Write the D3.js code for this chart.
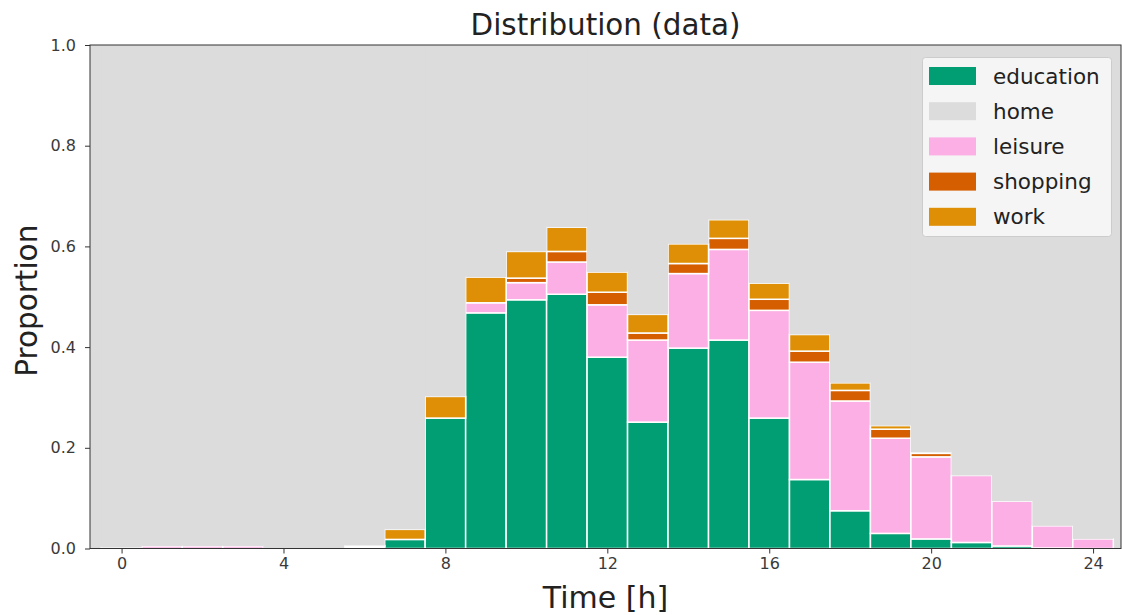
<!DOCTYPE html>
<html>
<head>
<meta charset="utf-8">
<script src="https://cdn.jsdelivr.net/npm/d3@7"></script>
<style>
  body { margin: 0; background: #fff; }
  text { font-family: "DejaVu Sans", sans-serif; }
</style>
</head>
<body>
<div id="chart"></div>
<script>
// hour bins 0..24
var hours = d3.range(0, 25)
var activities = ['education', 'home', 'leisure', 'shopping', 'work']

var education = [0, 0, 0, 0, 0, 0, 0.003, 0.018, 0.259, 0.468, 0.494, 0.505, 0.380, 0.251, 0.398, 0.414, 0.259, 0.137, 0.075, 0.030, 0.019, 0.012, 0.005, 0.001, 0]
var leisure = [0.002, 0.005, 0.005, 0.005, 0, 0, 0.002, 0, 0, 0.020, 0.034, 0.064, 0.104, 0.163, 0.148, 0.180, 0.214, 0.233, 0.218, 0.189, 0.163, 0.133, 0.089, 0.044, 0.019]
var shopping = [0, 0, 0, 0, 0, 0, 0, 0, 0, 0, 0.009, 0.021, 0.025, 0.014, 0.020, 0.022, 0.022, 0.022, 0.021, 0.018, 0.007, 0, 0, 0, 0]
var work = [0, 0, 0, 0, 0, 0, 0.001, 0.020, 0.043, 0.051, 0.053, 0.048, 0.040, 0.037, 0.039, 0.037, 0.032, 0.033, 0.015, 0.007, 0.002, 0, 0, 0, 0]

var colors = {
  education: '#029e73',
  home: '#dcdcdc',
  leisure: '#fbafe4',
  shopping: '#d55e00',
  work: '#de8f05'
}

var xTicks = [0, 4, 8, 12, 16, 20, 24]
var yTicks = [0, 0.2, 0.4, 0.6, 0.8, 1.0]

var w = 1122, h = 615
var plotL = 90, plotR = 1121, plotT = 45, plotB = 548.5

var svg = d3.select('#chart').append('svg')
  .attr('width', w)
  .attr('height', h)

var x = d3.scaleLinear().domain([-0.78, 24.69]).range([plotL, plotR])
var y = d3.scaleLinear().domain([0, 1]).range([plotB, plotT])

// home fills whatever is left up to 1
var rows = hours.map(function(hr, i) {
  var rest = education[i] + leisure[i] + shopping[i] + work[i]
  return {
    hour: hr,
    education: education[i],
    home: 1 - rest,
    leisure: leisure[i],
    shopping: shopping[i],
    work: work[i]
  }
})

// background (home colour)
svg.append('rect')
  .attr('x', plotL)
  .attr('y', plotT)
  .attr('width', plotR - plotL)
  .attr('height', plotB - plotT)
  .attr('fill', colors.home)

var stackOrder = ['education', 'leisure', 'shopping', 'work', 'home']
var series = d3.stack().keys(stackOrder)(rows)

svg.selectAll('.layer')
  .data(series)
  .enter()
  .append('g')
  .attr('class', 'layer')
  .attr('fill', d => colors[d.key])
  .selectAll('rect')
  .data(d => d.map(v => ({ key: d.key, v: v })).filter(o => o.key === 'home' || o.v[1] - o.v[0] > 0))
  .enter()
  .append('rect')
  .attr('x', d => x(d.v.data.hour - 0.5))
  .attr('width', d => x(d.v.data.hour + 0.5) - x(d.v.data.hour - 0.5))
  .attr('y', d => y(d.v[1]))
  .attr('height', d => Math.max(0, y(d.v[0]) - y(d.v[1])))
  .attr('stroke', d => d.key === 'home' ? 'none' : '#fff')
  .attr('stroke-width', 1.5)

// axes
var xAxis = svg.append('g')
  .attr('transform', 'translate(0,' + plotB + ')')
  .call(d3.axisBottom(x).tickValues(xTicks).tickSize(5).tickPadding(4).tickFormat(d3.format('d')))
var yAxis = svg.append('g')
  .attr('transform', 'translate(' + plotL + ',0)')
  .call(d3.axisLeft(y).tickValues(yTicks).tickSize(5).tickPadding(9).tickFormat(d3.format('.1f')))

;[xAxis, yAxis].forEach(function(a) {
  a.attr('font-size', null).attr('font-family', null)
  a.select('.domain').remove()
  a.selectAll('line').attr('stroke', '#333').attr('stroke-width', 1)
  a.selectAll('text').attr('fill', '#3a3a3a').style('font-size', '16px')
})

// frame
svg.append('rect')
  .attr('x', plotL)
  .attr('y', plotT)
  .attr('width', plotR - plotL)
  .attr('height', plotB - plotT)
  .attr('fill', 'none')
  .attr('stroke', '#333')
  .attr('stroke-width', 1)

// titles
svg.append('text')
  .attr('x', (plotL + plotR) / 2)
  .attr('y', 35)
  .attr('text-anchor', 'middle')
  .style('font-size', '29.4px')
  .attr('fill', '#222')
  .text('Distribution (data)')

svg.append('text')
  .attr('x', (plotL + plotR) / 2)
  .attr('y', 608)
  .attr('text-anchor', 'middle')
  .style('font-size', '30px')
  .attr('fill', '#222')
  .text('Time [h]')

svg.append('text')
  .attr('transform', 'translate(37,' + ((plotT + plotB) / 2 + 4) + ') rotate(-90)')
  .attr('text-anchor', 'middle')
  .style('font-size', '29.5px')
  .attr('fill', '#222')
  .text('Proportion')

// legend
var lg = svg.append('g').attr('transform', 'translate(922.5,57.5)')
lg.append('rect')
  .attr('width', 189)
  .attr('height', 179)
  .attr('rx', 3)
  .attr('fill', '#f7f7f7')
  .attr('fill-opacity', 0.9)
  .attr('stroke', '#cccccc')

var items = lg.selectAll('.item')
  .data(activities)
  .enter()
  .append('g')
  .attr('transform', (d, i) => 'translate(0,' + (18.5 + i * 35.2) + ')')

items.append('rect')
  .attr('x', 6.5)
  .attr('y', -9)
  .attr('width', 47)
  .attr('height', 18)
  .attr('fill', d => colors[d])

items.append('text')
  .attr('x', 70.5)
  .attr('y', 7.5)
  .style('font-size', '21.5px')
  .attr('fill', '#222')
  .text(d => d)
</script>
</body>
</html>
